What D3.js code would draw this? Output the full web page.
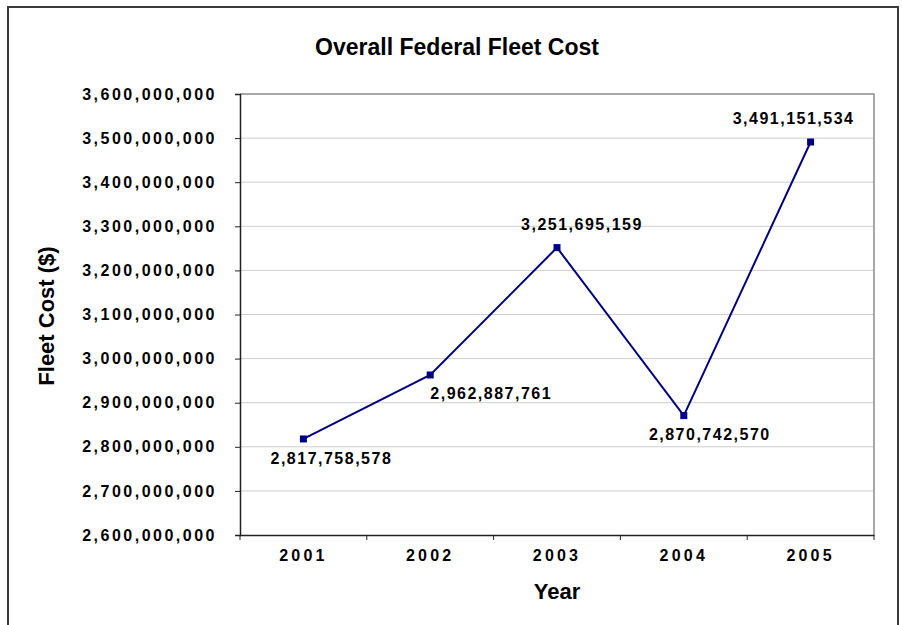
<!DOCTYPE html>
<html>
<head>
<meta charset="utf-8">
<script src="https://cdn.jsdelivr.net/npm/d3@7"></script>
<style>
  body { margin: 0; background: #fff; }
  text { font-family: "Liberation Sans", Arial, sans-serif; font-weight: bold; fill: #000; }
</style>
</head>
<body>
<div id="chart"></div>
<script>
// Chart data
const years = ["2001", "2002", "2003", "2004", "2005"];
const fleetCost = [2817758578, 2962887761, 3251695159, 2870742570, 3491151534];
const yTicks = [2600000000, 2700000000, 2800000000, 2900000000, 3000000000,
                3100000000, 3200000000, 3300000000, 3400000000, 3500000000, 3600000000];

// label placement relative to each point [dx, dy]
const labelOffsets = [[28, 25], [61, 24], [25, -18], [26, 24], [-17, -18]];

const W = 902, H = 625;
const margin = { top: 94, right: 28, bottom: 90, left: 240 };
const width = W - margin.left - margin.right;
const height = H - margin.top - margin.bottom;

const root = d3.select("#chart").append("svg")
  .attr("width", W)
  .attr("height", H);

// outer chart border
root.append("rect")
  .attr("x", 8).attr("y", 7)
  .attr("width", 890).attr("height", 640)
  .attr("fill", "none")
  .attr("stroke", "#3a3a3a")
  .attr("stroke-width", 2);

const svg = root.append("g")
  .attr("transform", `translate(${margin.left},${margin.top})`);

// Scales
const x = d3.scaleBand().domain(years).range([0, width]);
const y = d3.scaleLinear().domain([2600000000, 3600000000]).range([height, 0]);
const fmt = d3.format(",");

// Gridlines
svg.selectAll(".grid")
  .data(yTicks.slice(1, -1))
  .enter().append("line")
  .attr("x1", 0).attr("x2", width)
  .attr("y1", d => y(d)).attr("y2", d => y(d))
  .attr("stroke", "#cfcfcf")
  .attr("stroke-width", 1);

// plot area top/right border
svg.append("path")
  .attr("d", `M0,${y(3600000000)}H${width}V${height}`)
  .attr("fill", "none")
  .attr("stroke", "#8a8a8a")
  .attr("stroke-width", 1.5);

// Y axis
const yAxis = svg.append("g")
  .call(d3.axisLeft(y).tickValues(yTicks).tickFormat(fmt).tickSize(5).tickPadding(18));
yAxis.select(".domain").attr("stroke", "#222").attr("stroke-width", 1.5);
yAxis.selectAll(".tick line").attr("stroke", "#222");
yAxis.selectAll("text")
  .style("font-size", "16px")
  .style("letter-spacing", "2.5px")
  .attr("fill", "#000");

// X axis
const xAxis = svg.append("g")
  .attr("transform", `translate(0,${height})`)
  .call(d3.axisBottom(x).tickSize(0).tickPadding(15));
xAxis.select(".domain").attr("stroke", "#222").attr("stroke-width", 1.5);
xAxis.selectAll("text")
  .style("font-size", "16px")
  .style("letter-spacing", "3.2px")
  .attr("fill", "#000");

// category boundary ticks
svg.selectAll(".xtick")
  .data(years.concat(["end"]))
  .enter().append("line")
  .attr("x1", (d, i) => i * x.step()).attr("x2", (d, i) => i * x.step())
  .attr("y1", height).attr("y2", height + 5)
  .attr("stroke", "#222");

// Line
const line = d3.line()
  .x((d, i) => x(years[i]) + x.bandwidth() / 2)
  .y(d => y(d));

svg.append("path")
  .datum(fleetCost)
  .attr("d", line)
  .attr("fill", "none")
  .attr("stroke", "#000080")
  .attr("stroke-width", 2);

// Markers
svg.selectAll(".marker")
  .data(fleetCost)
  .enter().append("rect")
  .attr("x", (d, i) => x(years[i]) + x.bandwidth() / 2 - 3.5)
  .attr("y", d => y(d) - 3.5)
  .attr("width", 7).attr("height", 7)
  .attr("fill", "#000080");

// Data labels
svg.selectAll(".dlabel")
  .data(fleetCost)
  .enter().append("text")
  .attr("x", (d, i) => x(years[i]) + x.bandwidth() / 2 + labelOffsets[i][0])
  .attr("y", (d, i) => y(d) + labelOffsets[i][1])
  .attr("text-anchor", "middle")
  .style("font-size", "16px")
  .style("letter-spacing", "1.5px")
  .text(d => fmt(d));

// Title
root.append("text")
  .attr("x", 457).attr("y", 55)
  .attr("text-anchor", "middle")
  .style("font-size", "23px")
  .text("Overall Federal Fleet Cost");

// Axis titles
root.append("text")
  .attr("x", 557).attr("y", 599)
  .attr("text-anchor", "middle")
  .style("font-size", "22px")
  .text("Year");

root.append("text")
  .attr("transform", "translate(54,316) rotate(-90)")
  .attr("text-anchor", "middle")
  .style("font-size", "22px")
  .text("Fleet Cost ($)");
</script>
</body>
</html>
